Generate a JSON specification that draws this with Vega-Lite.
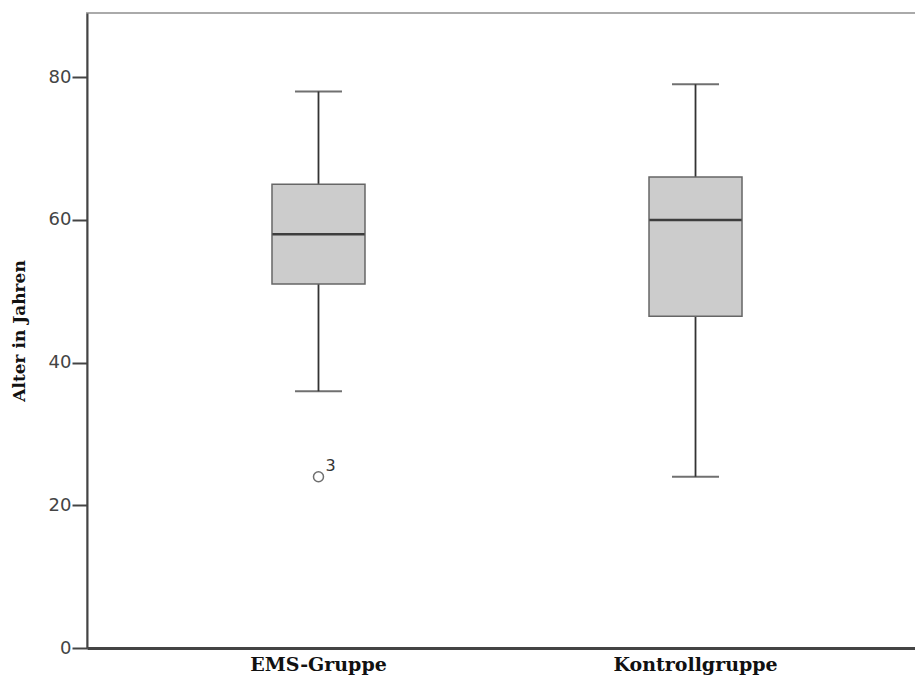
{
  "$schema": "https://vega.github.io/schema/vega-lite/v6.json",
  "autosize": "none",
  "width": 840,
  "height": 635,
  "padding": {"left": 87, "top": 13, "right": 0, "bottom": 27},
  "background": "white",
  "config": {
    "view": {"stroke": "#aaaaaa", "strokeWidth": 2},
    "axis": {"grid": false}
  },
  "datasets": {
    "boxes": [
      {"gruppe": "EMS-Gruppe", "min": 36, "q1": 51, "median": 58, "q3": 65, "max": 78},
      {"gruppe": "Kontrollgruppe", "min": 24, "q1": 46.5, "median": 60, "q3": 66, "max": 79}
    ],
    "outliers": [
      {"gruppe": "EMS-Gruppe", "alter": 24, "fall": "3"}
    ]
  },
  "encoding": {
    "x": {
      "field": "gruppe",
      "type": "nominal",
      "sort": ["EMS-Gruppe", "Kontrollgruppe"],
      "scale": {"paddingInner": 0, "paddingOuter": 0.114},
      "axis": {
        "title": null,
        "labelAngle": 0,
        "labelFont": "DejaVu Serif",
        "labelFontWeight": "bold",
        "labelFontSize": 19,
        "labelColor": "#111111",
        "labelPadding": 7,
        "ticks": false,
        "domainColor": "#444444",
        "domainWidth": 3
      }
    }
  },
  "layer": [
    {
      "data": {"name": "boxes"},
      "mark": {"type": "rule", "color": "#333333", "strokeWidth": 1.8},
      "encoding": {
        "y": {
          "field": "min",
          "type": "quantitative",
          "scale": {"domain": [0, 89], "nice": false},
          "axis": {
            "title": "Alter in Jahren",
            "titleFont": "DejaVu Serif",
            "titleFontWeight": "bold",
            "titleFontSize": 17,
            "titleColor": "#111111",
            "titlePadding": 20,
            "values": [0, 20, 40, 60, 80],
            "labelFont": "DejaVu Sans",
            "labelFontSize": 18,
            "labelColor": "#444444",
            "labelPadding": 1,
            "tickSize": 15,
            "tickWidth": 2,
            "tickColor": "#444444",
            "domainColor": "#444444",
            "domainWidth": 2
          }
        },
        "y2": {"field": "max"}
      }
    },
    {
      "data": {"name": "boxes"},
      "mark": {"type": "tick", "color": "#333333", "size": 47, "thickness": 2},
      "encoding": {"y": {"field": "max", "type": "quantitative"}}
    },
    {
      "data": {"name": "boxes"},
      "mark": {"type": "tick", "color": "#333333", "size": 47, "thickness": 2},
      "encoding": {"y": {"field": "min", "type": "quantitative"}}
    },
    {
      "data": {"name": "boxes"},
      "mark": {"type": "bar", "size": 93, "fill": "#cccccc", "stroke": "#666666", "strokeWidth": 1.5},
      "encoding": {
        "y": {"field": "q1", "type": "quantitative"},
        "y2": {"field": "q3"}
      }
    },
    {
      "data": {"name": "boxes"},
      "mark": {"type": "tick", "color": "#000000", "size": 92, "thickness": 2.5},
      "encoding": {"y": {"field": "median", "type": "quantitative"}}
    },
    {
      "data": {"name": "outliers"},
      "mark": {"type": "point", "shape": "circle", "filled": false, "size": 100, "color": "#333333", "strokeWidth": 1.5},
      "encoding": {"y": {"field": "alter", "type": "quantitative"}}
    },
    {
      "data": {"name": "outliers"},
      "mark": {"type": "text", "dx": 12, "dy": -11, "font": "DejaVu Sans", "fontSize": 16, "color": "#333333"},
      "encoding": {
        "y": {"field": "alter", "type": "quantitative"},
        "text": {"field": "fall"}
      }
    }
  ]
}
